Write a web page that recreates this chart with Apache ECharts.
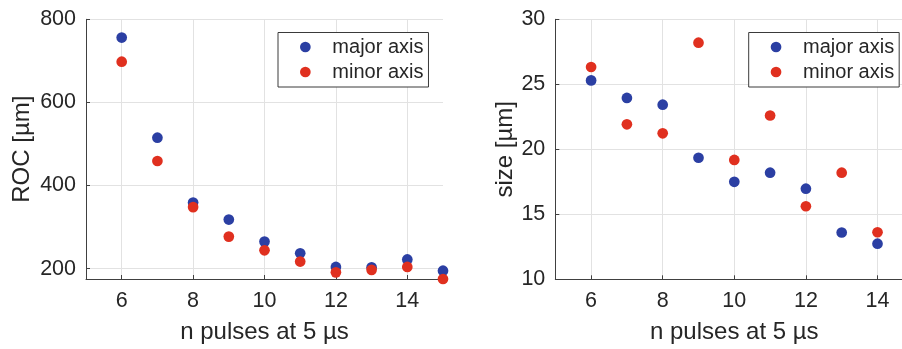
<!DOCTYPE html>
<html>
<head>
<meta charset="utf-8">
<script src="https://cdn.jsdelivr.net/npm/echarts@6/dist/echarts.min.js"></script>
<style>
  html, body { margin: 0; padding: 0; background: #fff; }
  #chart { width: 902px; height: 349px; }
</style>
</head>
<body>
<div id="chart"></div>
<script>
// Pulse counts (n pulses at 5 µs)
const pulsesROC = [6, 7, 8, 9, 10, 11, 12, 13, 14, 15];
const rocMajor = [756, 515, 359, 318, 265, 237, 204, 203, 222, 195];
const rocMinor = [698, 459, 348, 277, 244, 217, 191, 197, 204, 175];

const pulsesSize = [6, 7, 8, 9, 10, 11, 12, 13, 14];
const sizeMajor = [25.3, 23.95, 23.43, 19.35, 17.5, 18.2, 16.97, 13.6, 12.74];
const sizeMinor = [26.33, 21.92, 21.23, 28.2, 19.18, 22.6, 15.62, 18.2, 13.62];

const xTicks = [6, 8, 10, 12, 14];
const rocTicks = [200, 400, 600, 800];
const sizeTicks = [10, 15, 20, 25, 30];

const seriesNames = ['major axis', 'minor axis'];

const FONT = '"Liberation Sans", Arial, Helvetica, sans-serif';
const TEXT = '#262626';
const BLUE = '#2b3fa3';
const RED = '#e0301f';
const GRID = '#e2e2e2';

function pairs(xs, ys) {
  return xs.map((x, i) => [x, ys[i]]);
}

function xAxisCfg(gridIndex) {
  return {
    type: 'value', gridIndex, min: 5, max: 15,
    name: 'n pulses at 5 µs', nameLocation: 'middle', nameGap: 41,
    nameTextStyle: { fontFamily: FONT, fontSize: 24, color: TEXT },
    axisLine: { show: true, lineStyle: { color: '#404040', width: 1 } },
    axisTick: { show: true, inside: true, length: 4, customValues: xTicks,
                lineStyle: { color: '#404040' } },
    axisLabel: { customValues: xTicks, margin: 11, fontFamily: FONT, fontSize: 21.5, color: TEXT },
    splitLine: { show: true, lineStyle: { color: GRID, width: 1 } }
  };
}

function yAxisCfg(gridIndex, name, min, max, ticks, nameGap) {
  return {
    type: 'value', gridIndex, min, max,
    name, nameLocation: 'middle', nameGap,
    nameTextStyle: { fontFamily: FONT, fontSize: 24, color: TEXT },
    axisLine: { show: true, lineStyle: { color: '#404040', width: 1 } },
    axisTick: { show: true, inside: true, length: 4, customValues: ticks,
                lineStyle: { color: '#404040' } },
    axisLabel: { customValues: ticks, margin: 10, fontFamily: FONT, fontSize: 21.5, color: TEXT },
    splitLine: { show: true, lineStyle: { color: GRID, width: 1 } }
  };
}

function legendCfg(left) {
  return {
    data: seriesNames,
    orient: 'vertical',
    left, top: 32.5,
    icon: 'circle',
    itemWidth: 44, itemHeight: 10.7, itemGap: 5,
    padding: [4.5, 5, 5, 22],
    borderColor: '#3a3a3a', borderWidth: 1,
    backgroundColor: '#fff',
    selectedMode: false,
    textStyle: { fontFamily: FONT, fontSize: 20, color: TEXT, lineHeight: 20 }
  };
}

function scatter(name, xIdx, data, color) {
  return {
    type: 'scatter', name, xAxisIndex: xIdx, yAxisIndex: xIdx,
    data, symbol: 'circle', symbolSize: 10.7,
    itemStyle: { color, opacity: 1 },
    emphasis: { disabled: true },
    clip: false
  };
}

const chart = echarts.init(document.getElementById('chart'), null, { renderer: 'canvas' });
chart.setOption({
  animation: false,
  backgroundColor: '#fff',
  grid: [
    { left: 86, top: 19.3, width: 357, bottom: 70, outerBoundsMode: 'none', containLabel: false },
    { left: 555.3, top: 19.3, width: 358, bottom: 69.7, outerBoundsMode: 'none', containLabel: false }
  ],
  xAxis: [xAxisCfg(0), xAxisCfg(1)],
  yAxis: [
    yAxisCfg(0, 'ROC [µm]', 175, 800, rocTicks, 52),
    yAxisCfg(1, 'size [µm]', 10, 30, sizeTicks, 38)
  ],
  legend: [legendCfg(278), legendCfg(748.7)],
  series: [
    scatter('major axis', 0, pairs(pulsesROC, rocMajor), BLUE),
    scatter('minor axis', 0, pairs(pulsesROC, rocMinor), RED),
    scatter('major axis', 1, pairs(pulsesSize, sizeMajor), BLUE),
    scatter('minor axis', 1, pairs(pulsesSize, sizeMinor), RED)
  ]
});
</script>
</body>
</html>
